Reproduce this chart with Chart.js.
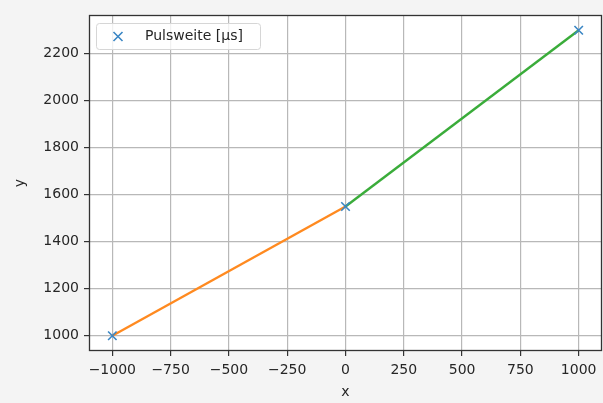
<!DOCTYPE html>
<html>
<head>
<meta charset="utf-8">
<script src="https://cdn.jsdelivr.net/npm/chart.js@4/dist/chart.umd.min.js"></script>
<style>
  html, body { margin: 0; padding: 0; background: #f4f4f4; }
  #wrap { width: 603px; height: 403px; }
</style>
</head>
<body>
<div id="wrap"><canvas id="chart" width="603" height="403"></canvas></div>
<script>
// data
const pulseX = [-1000, 0, 1000];
const pulseY = [1000, 1550, 2300];
const xTicks = [-1000, -750, -500, -250, 0, 250, 500, 750, 1000];
const yTicks = [1000, 1200, 1400, 1600, 1800, 2000, 2200];
const seriesLabel = 'Pulsweite [µs]';

const fontFamily = '"DejaVu Sans", sans-serif';
const fmt = v => String(v).replace('-', '\u2212');

const points = pulseX.map((x, i) => ({ x: x, y: pulseY[i] }));

// background + frame + legend
const decor = {
  id: 'decor',
  beforeDraw(chart) {
    const { ctx, chartArea: a } = chart;
    ctx.save();
    ctx.fillStyle = '#f4f4f4';
    ctx.fillRect(0, 0, chart.width, chart.height);
    ctx.fillStyle = '#ffffff';
    ctx.fillRect(a.left, a.top, a.right - a.left, a.bottom - a.top);
    ctx.restore();
  },
  afterDraw(chart) {
    const { ctx, chartArea: a } = chart;
    ctx.save();
    ctx.strokeStyle = '#333';
    ctx.lineWidth = 1.3;
    ctx.strokeRect(a.left + 0.5, a.top + 0.5, a.right - a.left - 1, a.bottom - a.top - 1);

    // legend box
    const bx = a.left + 7, by = a.top + 8, bw = 164, bh = 26;
    ctx.beginPath();
    ctx.roundRect(bx + 0.5, by + 0.5, bw, bh, 3);
    ctx.fillStyle = 'rgba(255,255,255,0.8)';
    ctx.fill();
    ctx.strokeStyle = '#d6d6d6';
    ctx.lineWidth = 1;
    ctx.stroke();
    const mx = bx + 22, my = by + bh / 2 + 0.5;
    ctx.strokeStyle = '#3a86c4';
    ctx.lineWidth = 1.6;
    ctx.beginPath();
    ctx.moveTo(mx - 4.5, my - 4.5); ctx.lineTo(mx + 4.5, my + 4.5);
    ctx.moveTo(mx - 4.5, my + 4.5); ctx.lineTo(mx + 4.5, my - 4.5);
    ctx.stroke();
    ctx.fillStyle = '#262626';
    ctx.font = '14px ' + fontFamily;
    ctx.textBaseline = 'middle';
    ctx.fillText(seriesLabel, bx + 49, my);
    ctx.restore();
  }
};

new Chart(document.getElementById('chart'), {
  type: 'scatter',
  data: {
    datasets: [
      {
        label: seriesLabel,
        data: points,
        pointStyle: 'crossRot',
        pointRadius: 6,
        pointBorderWidth: 1.6,
        borderColor: '#3a86c4',
        backgroundColor: '#3a86c4',
        order: 0
      },
      {
        label: 'left',
        data: points.slice(0, 2),
        showLine: true,
        borderColor: '#ff8a20',
        borderWidth: 2.4,
        pointRadius: 0,
        order: 1
      },
      {
        label: 'right',
        data: points.slice(1, 3),
        showLine: true,
        borderColor: '#3aac3a',
        borderWidth: 2.4,
        pointRadius: 0,
        order: 1
      }
    ]
  },
  plugins: [decor],
  options: {
    responsive: false,
    animation: false,
    // no extra room for point radius, the plot frame goes to the edge
    layout: { autoPadding: false, padding: { top: 15, right: 1, left: 0, bottom: 0 } },
    plugins: {
      legend: { display: false },
      tooltip: { enabled: false }
    },
    scales: {
      x: {
        type: 'linear',
        min: -1100,
        max: 1100,
        afterBuildTicks: s => { s.ticks = xTicks.map(v => ({ value: v })); },
        afterFit: s => { s.height = 52; },
        ticks: {
          callback: fmt,
          color: '#262626',
          padding: 6,
          maxRotation: 0,
          autoSkip: false,
          font: { family: fontFamily, size: 14 }
        },
        grid: { color: '#b8b8b8', lineWidth: 1.2, tickLength: 5, tickColor: '#333' },
        border: { display: false },
        title: {
          display: true,
          text: 'x',
          color: '#262626',
          padding: { top: 0, bottom: 2 },
          font: { family: fontFamily, size: 14 }
        }
      },
      y: {
        type: 'linear',
        min: 935,
        max: 2365,
        afterBuildTicks: s => { s.ticks = yTicks.map(v => ({ value: v })); },
        afterFit: s => { s.width = 89; },
        ticks: {
          callback: fmt,
          color: '#262626',
          padding: 5,
          autoSkip: false,
          font: { family: fontFamily, size: 14 }
        },
        grid: { color: '#b8b8b8', lineWidth: 1.2, tickLength: 5, tickColor: '#333' },
        border: { display: false },
        title: {
          display: true,
          text: 'y',
          color: '#262626',
          padding: { top: 12, bottom: 0 },
          font: { family: fontFamily, size: 14 }
        }
      }
    }
  }
});
</script>
</body>
</html>
